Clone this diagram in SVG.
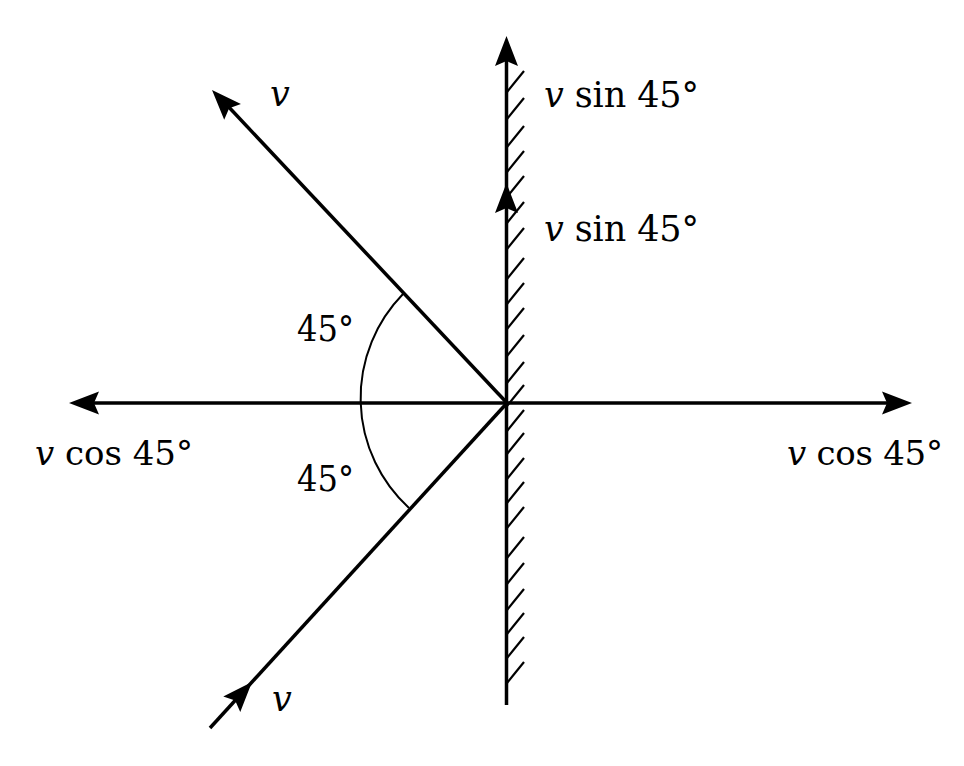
<svg xmlns="http://www.w3.org/2000/svg" xmlns:xlink="http://www.w3.org/1999/xlink" width="964" height="766" viewBox="0 0 964 766">
<style>
.ln{stroke:#000;stroke-width:3.5;fill:none;stroke-linecap:butt}
.ht{stroke:#000;stroke-width:2.2;fill:none}
.arc{stroke:#000;stroke-width:2;fill:none}
.i{font-style:italic}
</style>
<defs>
<path id="ah" d="M0,0 L-30,-11.5 L-25,0 L-30,11.5 Z" fill="#000"/>
</defs>
<rect width="964" height="766" fill="#fff"/>
<g id="wall">
<line class="ln" x1="506.5" y1="705" x2="506.5" y2="55"/>
<g class="ht">
<line x1="507" y1="92" x2="524" y2="71"/>
<line x1="507" y1="119" x2="524" y2="98"/>
<line x1="507" y1="147" x2="524" y2="126"/>
<line x1="507" y1="172" x2="524" y2="151"/>
<line x1="507" y1="197" x2="524" y2="176"/>
<line x1="507" y1="223" x2="524" y2="202"/>
<line x1="507" y1="249" x2="524" y2="228"/>
<line x1="507" y1="279" x2="524" y2="258"/>
<line x1="507" y1="304" x2="524" y2="283"/>
<line x1="507" y1="329" x2="524" y2="308"/>
<line x1="507" y1="356" x2="524" y2="335"/>
<line x1="507" y1="383" x2="524" y2="362"/>
<line x1="507" y1="406" x2="524" y2="385"/>
<line x1="507" y1="431" x2="524" y2="410"/>
<line x1="507" y1="454" x2="524" y2="433"/>
<line x1="507" y1="479" x2="524" y2="458"/>
<line x1="507" y1="503" x2="524" y2="482"/>
<line x1="507" y1="528" x2="524" y2="507"/>
<line x1="507" y1="558" x2="524" y2="537"/>
<line x1="507" y1="584" x2="524" y2="563"/>
<line x1="507" y1="610" x2="524" y2="589"/>
<line x1="507" y1="634" x2="524" y2="613"/>
<line x1="507" y1="658" x2="524" y2="637"/>
<line x1="507" y1="683" x2="524" y2="662"/>
</g>
</g>
<g id="connectors">
<line class="ln" x1="80" y1="403" x2="900" y2="403"/>
<line class="ln" x1="507" y1="403" x2="225" y2="103"/>
<line class="ln" x1="210" y1="728" x2="507" y2="403"/>
<path class="arc" d="M403,294 A149,149 0 0 0 409,508"/>
<use xlink:href="#ah" href="#ah" transform="translate(506.5,36) rotate(-90)"/>
<use xlink:href="#ah" href="#ah" transform="translate(506.5,183) rotate(-90)"/>
<use xlink:href="#ah" href="#ah" transform="translate(69,403) rotate(180)"/>
<use xlink:href="#ah" href="#ah" transform="translate(912,403)"/>
<use xlink:href="#ah" href="#ah" transform="translate(212,90) rotate(-133.3)"/>
<use xlink:href="#ah" href="#ah" transform="translate(252,682) rotate(-47.6)"/>
</g>
<g id="labels" font-family="DejaVu Serif, Liberation Serif, serif" font-size="35" fill="#000">
<text class="i" x="270" y="106">v</text>
<text x="544" y="107" textLength="155" lengthAdjust="spacing"><tspan class="i">v</tspan> sin 45°</text>
<text x="544" y="241" textLength="155" lengthAdjust="spacing"><tspan class="i">v</tspan> sin 45°</text>
<text x="297" y="341" textLength="57" lengthAdjust="spacingAndGlyphs">45°</text>
<text x="297" y="491" textLength="57" lengthAdjust="spacingAndGlyphs">45°</text>
<text x="35" y="465" font-size="34" textLength="158" lengthAdjust="spacing"><tspan class="i">v</tspan> cos 45°</text>
<text x="787" y="465" font-size="34" textLength="156" lengthAdjust="spacing"><tspan class="i">v</tspan> cos 45°</text>
<text class="i" x="272" y="711">v</text>
</g>
</svg>
